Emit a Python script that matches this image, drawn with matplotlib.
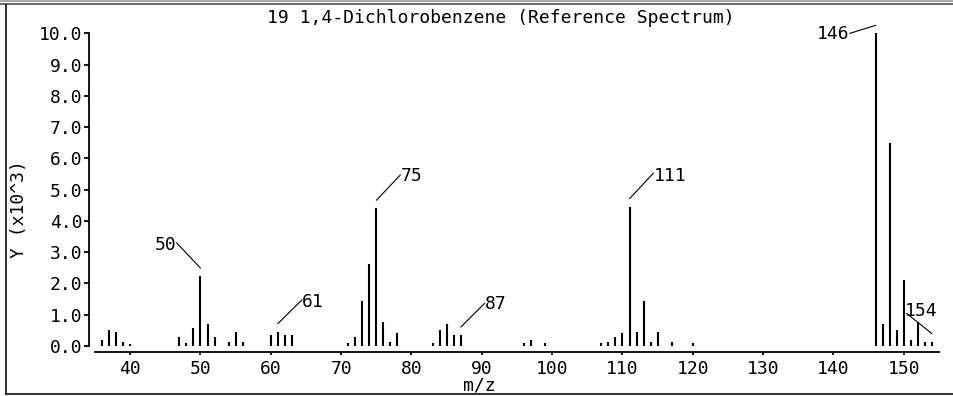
import matplotlib

matplotlib.use("Agg")
import matplotlib.pyplot as plt
from matplotlib import transforms
from matplotlib.lines import Line2D

# peak list (m/z, intensity in units of 10^3)
mz = [36, 37, 38, 39, 40,
      47, 48, 49, 50, 51, 52,
      54, 55, 56,
      60, 61, 62, 63,
      71, 72, 73, 74, 75, 76, 77, 78,
      83, 84, 85, 86, 87,
      96, 97, 99,
      107, 108, 109, 110, 111, 112, 113, 114, 115, 117, 120,
      146, 147, 148, 149, 150, 151, 152, 153, 154]
intensity = [0.20, 0.50, 0.45, 0.13, 0.05,
             0.27, 0.10, 0.58, 2.23, 0.70, 0.29,
             0.13, 0.45, 0.13,
             0.34, 0.45, 0.34, 0.34,
             0.10, 0.27, 1.44, 2.62, 4.40, 0.77, 0.13, 0.40,
             0.10, 0.50, 0.70, 0.34, 0.34,
             0.10, 0.20, 0.10,
             0.08, 0.13, 0.27, 0.40, 4.45, 0.45, 1.43, 0.13, 0.45, 0.13, 0.08,
             10.0, 0.70, 6.49, 0.50, 2.10, 0.20, 0.77, 0.13, 0.13]
labelled_peaks = [50, 61, 75, 87, 111, 146, 154]

x_ticks = list(range(40, 151, 10))
y_ticks = [float(v) for v in range(0, 11)]

title = "19 1,4-Dichlorobenzene (Reference Spectrum)"
x_label = "m/z"
y_label = "Y (x10^3)"

# label placement: text offset (px) from leader start, alignment, leader attach point
label_style = {
    50: (-24, 23, "right", (1.0, 0.63)),
    61: (24, 22, "left", (0.0, 0.60)),
    75: (24, 24, "left", (0.0, 0.57)),
    87: (24, 23, "left", (0.0, 0.55)),
    111: (24, 23, "left", (0.0, 0.65)),
    146: (-26, -9, "right", (1.0, 0.55)),
    154: (-27, 23, "left", (0.05, 0.35)),
}

FONT = "DejaVu Sans Mono"
FS = 13

fig = plt.figure(figsize=(9.54, 3.96), dpi=100)
ax = fig.add_axes([95 / 954, 44 / 396, 844 / 954, (396 - 44 - 33.3) / 396])

ax.vlines(mz, 0, intensity, color="black", linewidth=1.5)

ax.set_xlim(35, 155)
ax.set_ylim(-0.2, 10.0)

for side in ("top", "right"):
    ax.spines[side].set_visible(False)
ax.spines["left"].set_position(("outward", 4.1))
ax.spines["left"].set_bounds(0, 10)
for side in ("left", "bottom"):
    ax.spines[side].set_linewidth(1.3)

ax.set_xticks(x_ticks)
ax.set_xticklabels([str(v) for v in x_ticks], fontfamily=FONT, fontsize=FS)
ax.set_yticks(y_ticks)
ax.set_yticklabels([f"{v:.1f}" for v in y_ticks], fontfamily=FONT, fontsize=FS)
ax.tick_params(axis="x", direction="out", length=2.5, width=1.3, pad=3)
ax.tick_params(axis="y", direction="out", length=3.6, width=1.3, pad=1.5)

lead_start = transforms.offset_copy(ax.transData, fig=fig, x=0, y=8, units="dots")
for peak in labelled_peaks:
    dx, dy, ha, relpos = label_style[peak]
    height = intensity[mz.index(peak)]
    ax.annotate(
        str(peak),
        xy=(peak, height),
        xycoords=lead_start,
        xytext=(dx, dy),
        textcoords="offset pixels",
        ha=ha,
        va="center",
        fontfamily=FONT,
        fontsize=FS,
        annotation_clip=False,
        arrowprops=dict(arrowstyle="-", color="black", lw=0.8,
                        shrinkA=0, shrinkB=0, patchA=None, relpos=relpos),
    )

fig.text(501 / 954, 1 - 18 / 396, title, ha="center", va="center",
         fontfamily=FONT, fontsize=FS)
fig.text(479 / 954, 1 - 386 / 396, x_label, ha="center", va="center",
         fontfamily=FONT, fontsize=FS)
fig.text(19 / 954, 1 - 209 / 396, y_label, ha="center", va="center",
         rotation=90, fontfamily=FONT, fontsize=FS)

# outer frame: double rule on top, single rule left and bottom
fig.add_artist(Line2D([0, 1], [1 - 1 / 396, 1 - 1 / 396], color="#9a9a9a", lw=1.2,
                      transform=fig.transFigure))
fig.add_artist(Line2D([0, 1], [1 - 3.8 / 396, 1 - 3.8 / 396], color="#505050", lw=1.2,
                      transform=fig.transFigure))
fig.add_artist(Line2D([6.5 / 954, 6.5 / 954], [2 / 396, 1 - 5 / 396], color="#303030", lw=1.4,
                      transform=fig.transFigure))
fig.add_artist(Line2D([6.5 / 954, 1], [2 / 396, 2 / 396], color="#303030", lw=1.4,
                      transform=fig.transFigure))

fig.savefig("out.png", dpi=100)
